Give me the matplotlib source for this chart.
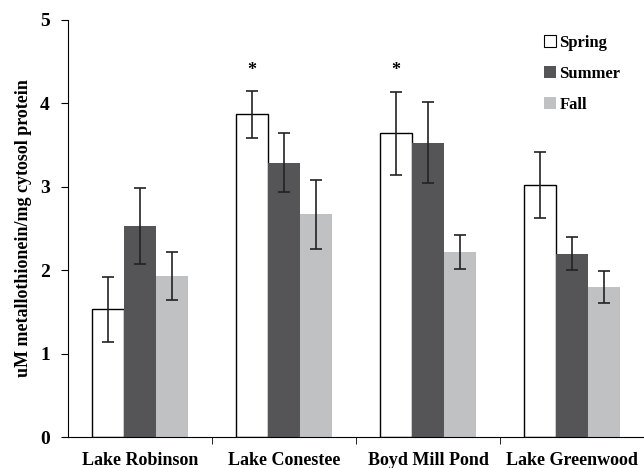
import numpy as np
import matplotlib
matplotlib.use("Agg")
import matplotlib.pyplot as plt
from matplotlib.patches import Patch

plt.rcParams['font.family'] = ['Liberation Serif', 'DejaVu Serif']
plt.rcParams['font.weight'] = 'bold'

sites = ["Lake Robinson", "Lake Conestee", "Boyd Mill Pond", "Lake Greenwood"]
seasons = ["Spring", "Summer", "Fall"]
spring = [1.53, 3.87, 3.64, 3.02]
spring_err = [0.39, 0.28, 0.50, 0.40]
summer = [2.53, 3.29, 3.53, 2.20]
summer_err = [0.45, 0.35, 0.49, 0.20]
fall = [1.93, 2.67, 2.22, 1.80]
fall_err = [0.29, 0.41, 0.20, 0.19]
significant = [False, True, True, False]

fig = plt.figure(figsize=(6.44, 4.68), dpi=100)
ax = fig.add_axes([68/644, 1 - 437/468, 576/644, 417/468])

x = np.arange(len(sites)) + 0.5
w = 0.222
styles = [dict(color="white", edgecolor="black", linewidth=1.0),
          dict(color="#555558", edgecolor="none"),
          dict(color="#c0c1c3", edgecolor="none")]
for i, (vals, errs) in enumerate([(spring, spring_err), (summer, summer_err), (fall, fall_err)]):
    ax.bar(x + (i - 1) * w, vals, w, yerr=errs, capsize=4,
           error_kw=dict(ecolor="#222222", elinewidth=1.2, capthick=1.2),
           **styles[i])

for xi, v, e, s in zip(x, spring, spring_err, significant):
    if s:
        ax.text(xi - w, 4.4, "*", ha="center", va="center", fontsize=13)

ax.set_xlim(0, 4)
ax.set_ylim(0, 5)
ax.set_yticks(range(6))
ax.set_xticks(x)
ax.set_xticklabels(sites, fontsize=13, fontweight="bold")
ax.set_xticks([1, 2, 3, 4], minor=True)
ax.tick_params(axis="x", which="major", length=0, pad=11)
ax.tick_params(axis="x", which="minor", length=5, direction="out")
ax.tick_params(axis="y", labelsize=14, length=5, direction="out", pad=8)
for lab in ax.get_yticklabels():
    lab.set_fontweight("bold")
ax.spines["top"].set_visible(False)
ax.spines["right"].set_visible(False)
ax.set_ylabel("uM metallothionein/mg cytosol protein", fontsize=13, fontweight="bold", labelpad=6)

handles = [Patch(facecolor="white", edgecolor="black", linewidth=0.8),
           Patch(facecolor="#555558"), Patch(facecolor="#c0c1c3")]
ax.legend(handles, seasons, loc="upper right", bbox_to_anchor=(0.985, 1.0), frameon=False,
          prop=dict(weight="bold", size=12), handlelength=0.7, handleheight=0.7,
          handletextpad=0.2, labelspacing=0.9)

fig.savefig("out.png", dpi=100)
